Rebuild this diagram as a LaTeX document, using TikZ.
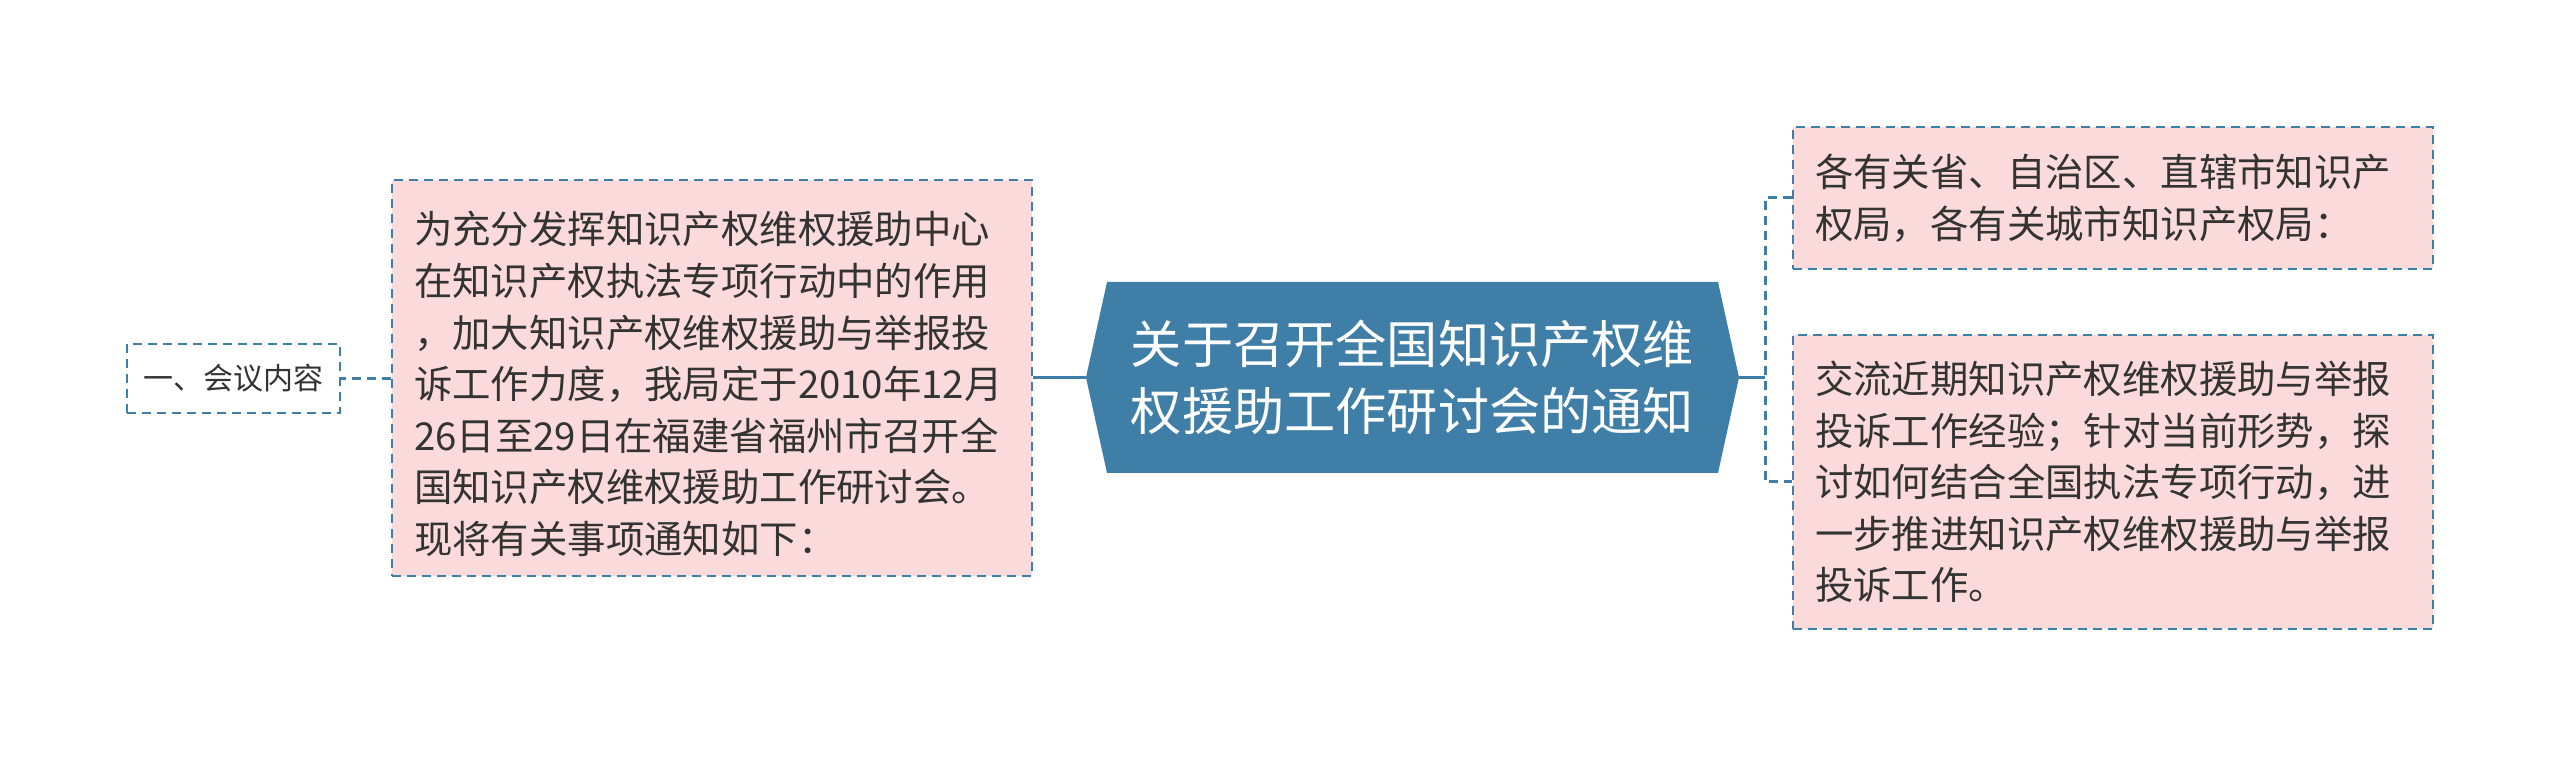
\documentclass[tikz,border=0pt]{standalone}
\usepackage{fontspec}
\setmainfont{Noto Sans CJK SC}
\definecolor{mainblue}{HTML}{3F7EA6}
\definecolor{pinkfill}{HTML}{FADADB}
\definecolor{txt}{HTML}{333333}
\begin{document}
\begin{tikzpicture}[x=0.5pt,y=-0.5pt,
  pinkbox/.style={draw=mainblue, fill=pinkfill, line width=1.4pt, dash pattern=on 4.5pt off 3pt,
     text=txt, align=left, inner sep=0pt, font=\fontsize{19.2pt}{25.8pt}\selectfont},
  smallbox/.style={draw=mainblue, fill=white, line width=1.4pt, dash pattern=on 4.5pt off 3pt,
     text=txt, align=center, inner sep=0pt, font=\fontsize{15pt}{18pt}\selectfont},
  dashcon/.style={draw=mainblue, line width=1.5pt, dash pattern=on 4.5pt off 3pt},
  solidcon/.style={draw=mainblue, line width=1.5pt}]
\useasboundingbox (0,0) rectangle (2560,758);
% central hexagon
\fill[mainblue] (1086,377.5) -- (1107,282) -- (1718,282) -- (1739,377.5) -- (1718,473) -- (1107,473) -- cycle;
\node[minimum width=326.5pt, minimum height=95.5pt, inner sep=0pt, text=white, align=center,
  font=\fontsize{25.6pt}{33.5pt}\selectfont] (c) at (1412.5,377.5)
  {关于召开全国知识产权维\\权援助工作研讨会的通知};
% left nodes
\node[pinkbox, minimum width=320pt, minimum height=198pt] (l) at (712,378)
  {\parbox{298pt}{\raggedright\vspace*{6pt}为充分发挥知识产权维权援助中心\\在知识产权执法专项行动中的作用\\，加大知识产权维权援助与举报投\\诉工作力度，我局定于2010年12月\\26日至29日在福建省福州市召开全\\国知识产权维权援助工作研讨会。\\现将有关事项通知如下：}};
\node[smallbox, minimum width=106.5pt, minimum height=34.5pt] (s) at (233.5,378.5) {一、会议内容};
% right nodes
\node[pinkbox, minimum width=320pt, minimum height=71pt] (r1) at (2113,198)
  {\parbox{298pt}{\raggedright 各有关省、自治区、直辖市知识产\\权局，各有关城市知识产权局：}};
\node[pinkbox, minimum width=320pt, minimum height=147pt] (r2) at (2113,482)
  {\parbox{298pt}{\raggedright 交流近期知识产权维权援助与举报\\投诉工作经验；针对当前形势，探\\讨如何结合全国执法专项行动，进\\一步推进知识产权维权援助与举报\\投诉工作。}};
% connectors
\coordinate (j) at (1765,377.5);
\coordinate (jt) at (1765,198);
\coordinate (jb) at (1765,482);
\draw[solidcon] (c.west) -- (l.east |- c.west);
\draw[dashcon] (l.west |- s.east) -- (s.east);
\draw[solidcon] (c.east) -- (j);
\draw[dashcon] (r1.west) -- (jt) -- (jb) -- (r2.west);
\end{tikzpicture}
\end{document}
